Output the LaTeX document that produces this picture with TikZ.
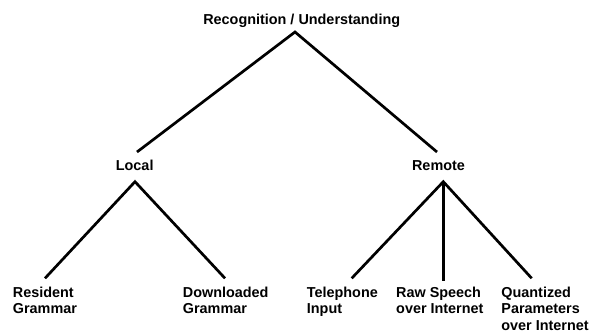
\documentclass[tikz,border=0pt]{standalone}
\usepackage{fontspec}
\setmainfont{Liberation Sans}
\begin{document}
\begin{tikzpicture}[x=1pt,y=-1pt,
  lbl/.style={font=\bfseries\fontsize{14.4}{16.5}\selectfont, inner sep=0pt},
  leaf/.style={lbl, align=left, anchor=base west},
  branch/.style={line width=2.7pt, line join=miter, line cap=butt}]
\useasboundingbox (0,0) rectangle (597,334);
% labels
\node[lbl, anchor=base] (root) at (301.7,25) {Recognition / Understanding};
\node[lbl, anchor=base] (local) at (134.7,171) {Local};
\node[lbl, anchor=base] (remote) at (438.5,171) {Remote};
\node[leaf] (res) at (12.7,313.5) {Resident\\Grammar};
\node[leaf] (down) at (182.7,313.5) {Downloaded\\Grammar};
\node[leaf] (tel) at (306.7,313.5) {Telephone\\Input};
\node[leaf] (raw) at (396,313.5) {Raw Speech\\over Internet};
\node[leaf] (quant) at (501.2,330) {Quantized\\Parameters\\over Internet};
% connector points
\coordinate (rootapex) at (295,32);
\coordinate (localtop) at (137,152);
\coordinate (remotetop) at (437,152);
\coordinate (localapex) at (135,181.7);
\coordinate (resend) at (45,278.3);
\coordinate (downend) at (225,278.3);
\coordinate (remoteapex) at (443.3,181.7);
\coordinate (telend) at (351.7,278.3);
\coordinate (rawend) at (443.3,280.7);
\coordinate (quantend) at (531.7,278.3);
% connectors
\draw[branch] (localtop) -- (rootapex) -- (remotetop);
\draw[branch] (resend) -- (localapex) -- (downend);
\draw[branch] (telend) -- (remoteapex) -- (quantend);
\draw[branch] (remoteapex) -- (rawend);
\end{tikzpicture}
\end{document}
